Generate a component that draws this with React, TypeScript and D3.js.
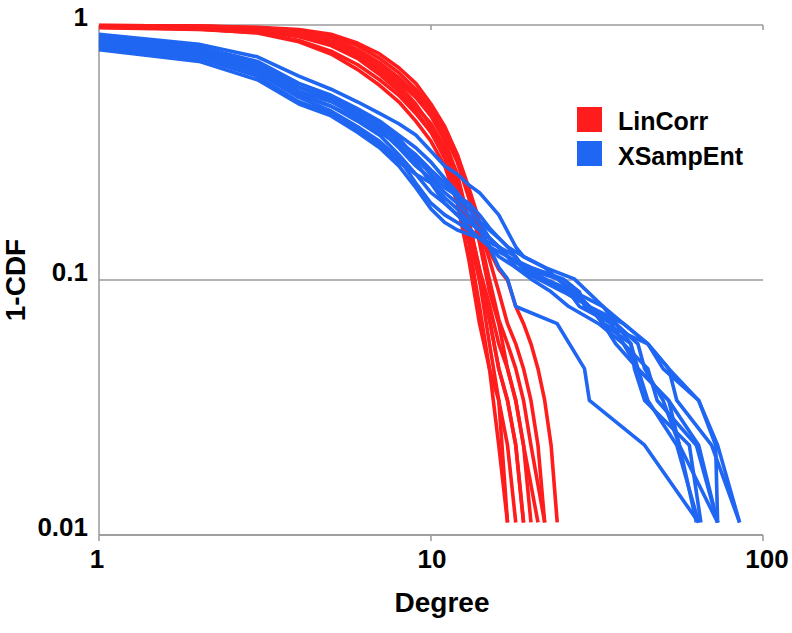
import React from "react";
import * as d3 from "d3";

type Pt = [number, number];

// LinCorr degree distributions (degree, 1-CDF)
const linCorr: Pt[][] = [
  [[1, 0.98], [2, 0.965], [3, 0.93], [4, 0.86], [5, 0.77], [6, 0.67], [7, 0.58], [8, 0.5], [9, 0.42], [10, 0.35], [11, 0.28], [12, 0.2], [13, 0.12], [14, 0.0674], [15, 0.0449], [16, 0.0225], [17, 0.0112]],
  [[1, 0.985], [2, 0.975], [3, 0.95], [4, 0.9], [5, 0.83], [6, 0.74], [7, 0.64], [8, 0.55], [9, 0.46], [10, 0.38], [11, 0.3], [12, 0.22], [13, 0.14], [14, 0.0787], [15, 0.0449], [16, 0.0337], [17, 0.0112]],
  [[1, 0.99], [2, 0.985], [3, 0.97], [4, 0.93], [5, 0.86], [6, 0.77], [7, 0.67], [8, 0.58], [9, 0.49], [10, 0.4], [11, 0.32], [12, 0.24], [13, 0.16], [14, 0.1], [15, 0.0562], [16, 0.0337], [17, 0.0225], [18, 0.0112]],
  [[1, 0.98], [2, 0.975], [3, 0.955], [4, 0.91], [5, 0.84], [6, 0.75], [7, 0.65], [8, 0.56], [9, 0.48], [10, 0.41], [11, 0.33], [12, 0.25], [13, 0.17], [14, 0.11], [15, 0.07], [16, 0.0449], [17, 0.0337], [18, 0.0225], [19, 0.0112]],
  [[1, 0.995], [2, 0.99], [3, 0.97], [4, 0.94], [5, 0.88], [6, 0.8], [7, 0.71], [8, 0.62], [9, 0.53], [10, 0.44], [11, 0.35], [12, 0.26], [13, 0.17], [14, 0.11], [15, 0.08], [16, 0.0562], [17, 0.0449], [18, 0.0337], [19, 0.0225], [20, 0.0112]],
  [[1, 0.99], [2, 0.98], [3, 0.96], [4, 0.92], [5, 0.86], [6, 0.78], [7, 0.69], [8, 0.6], [9, 0.52], [10, 0.44], [11, 0.37], [12, 0.29], [13, 0.21], [14, 0.14], [15, 0.09], [16, 0.0674], [17, 0.0449], [18, 0.0337], [19, 0.0225], [21, 0.0112]],
  [[1, 0.995], [2, 0.99], [3, 0.975], [4, 0.95], [5, 0.9], [6, 0.83], [7, 0.74], [8, 0.65], [9, 0.56], [10, 0.47], [11, 0.39], [12, 0.31], [13, 0.22], [14, 0.15], [15, 0.1], [16, 0.07], [17, 0.0562], [18, 0.0449], [19, 0.0337], [20, 0.0225], [22, 0.0112]],
  [[1, 0.985], [2, 0.98], [3, 0.965], [4, 0.93], [5, 0.88], [6, 0.8], [7, 0.71], [8, 0.62], [9, 0.54], [10, 0.46], [11, 0.38], [12, 0.3], [13, 0.22], [14, 0.16], [15, 0.12], [16, 0.09], [17, 0.0674], [18, 0.0562], [19, 0.0449], [20, 0.0337], [21, 0.0225], [22, 0.0112]],
  [[1, 0.995], [2, 0.99], [3, 0.98], [4, 0.96], [5, 0.92], [6, 0.85], [7, 0.77], [8, 0.68], [9, 0.59], [10, 0.49], [11, 0.4], [12, 0.31], [13, 0.23], [14, 0.17], [15, 0.13], [16, 0.11], [17, 0.1], [18, 0.0787], [19, 0.0674], [20, 0.0562], [21, 0.0449], [22, 0.0337], [23, 0.0225], [24, 0.0112]],
  [[1, 0.975], [2, 0.96], [3, 0.935], [4, 0.87], [5, 0.79], [6, 0.7], [7, 0.61], [8, 0.53], [9, 0.45], [10, 0.38], [11, 0.31], [12, 0.23], [13, 0.15], [14, 0.1], [15, 0.07], [16, 0.0449], [17, 0.0337], [18, 0.0225], [19, 0.0112]],
];

// XSampEnt degree distributions (degree, 1-CDF)
const xSampEnt: Pt[][] = [
  [[1, 0.92], [2, 0.84], [3, 0.75], [4, 0.63], [5, 0.56], [6, 0.5], [7, 0.45], [8, 0.41], [9, 0.37], [10, 0.32], [11, 0.28], [12, 0.26], [13, 0.236], [14, 0.22], [16, 0.18], [18, 0.135], [19, 0.1236], [22, 0.112], [27, 0.101], [33, 0.0787], [38, 0.0674], [45, 0.0562], [52, 0.0449], [64, 0.0337], [73, 0.0225], [85, 0.0112]],
  [[1, 0.9], [2, 0.82], [3, 0.72], [4, 0.59], [5, 0.53], [6, 0.47], [7, 0.42], [8, 0.37], [9, 0.33], [10, 0.29], [11, 0.25], [12, 0.22], [13, 0.19], [14, 0.168], [15, 0.146], [16, 0.135], [17, 0.1236], [19, 0.112], [24, 0.101], [27, 0.0899], [30, 0.0787], [33, 0.0674], [40, 0.0562], [42, 0.0449], [52, 0.0337], [64, 0.0225], [73, 0.0112]],
  [[1, 0.88], [2, 0.8], [3, 0.71], [4, 0.57], [5, 0.51], [6, 0.45], [7, 0.39], [8, 0.33], [9, 0.28], [10, 0.25], [11, 0.22], [12, 0.2], [13, 0.18], [14, 0.157], [15, 0.135], [16, 0.112], [17, 0.101], [18, 0.0787], [24, 0.0674], [29, 0.0449], [30, 0.0337], [44, 0.0225], [64, 0.0112]],
  [[1, 0.86], [2, 0.78], [3, 0.69], [4, 0.55], [5, 0.5], [6, 0.44], [7, 0.4], [8, 0.35], [9, 0.31], [10, 0.27], [11, 0.24], [12, 0.21], [13, 0.19], [14, 0.17], [15, 0.157], [16, 0.146], [17, 0.135], [19, 0.112], [21, 0.101], [26, 0.0899], [28, 0.0787], [35, 0.0674], [42, 0.0449], [45, 0.0337], [55, 0.0225], [64, 0.0112]],
  [[1, 0.85], [2, 0.77], [3, 0.67], [4, 0.53], [5, 0.48], [6, 0.42], [7, 0.37], [8, 0.31], [9, 0.26], [10, 0.22], [11, 0.2], [12, 0.18], [13, 0.168], [14, 0.157], [15, 0.146], [17, 0.1236], [18, 0.112], [20, 0.101], [23, 0.0899], [26, 0.0787], [32, 0.0674], [38, 0.0562], [45, 0.0449], [48, 0.0337], [63, 0.0225], [73, 0.0112]],
  [[1, 0.83], [2, 0.76], [3, 0.65], [4, 0.52], [5, 0.46], [6, 0.4], [7, 0.35], [8, 0.3], [9, 0.24], [10, 0.2], [11, 0.18], [12, 0.168], [13, 0.157], [14, 0.146], [16, 0.135], [17, 0.1236], [20, 0.112], [25, 0.101], [28, 0.0899], [29, 0.0787], [36, 0.0674], [40, 0.0562], [41, 0.0449], [44, 0.0337], [60, 0.0225], [65, 0.0112]],
  [[1, 0.82], [2, 0.74], [3, 0.63], [4, 0.5], [5, 0.45], [6, 0.39], [7, 0.34], [8, 0.29], [9, 0.26], [10, 0.24], [11, 0.2], [12, 0.18], [13, 0.16], [14, 0.146], [15, 0.135], [16, 0.1236], [18, 0.112], [21, 0.101], [25, 0.0899], [30, 0.0787], [33, 0.0674], [36, 0.0562], [42, 0.0449], [52, 0.0337], [56, 0.0225], [73, 0.0112]],
  [[1, 0.8], [2, 0.72], [3, 0.61], [4, 0.49], [5, 0.44], [6, 0.38], [7, 0.33], [8, 0.28], [9, 0.23], [10, 0.19], [11, 0.168], [12, 0.157], [14, 0.146], [15, 0.135], [17, 0.1236], [18, 0.112], [22, 0.101], [27, 0.0899], [30, 0.0787], [38, 0.0674], [45, 0.0562], [50, 0.0449], [64, 0.0337], [72, 0.0225], [73, 0.0112]],
  [[1, 0.87], [2, 0.79], [3, 0.69], [4, 0.57], [5, 0.52], [6, 0.46], [7, 0.41], [8, 0.36], [9, 0.3], [10, 0.26], [11, 0.23], [13, 0.2], [14, 0.18], [15, 0.16], [16, 0.146], [17, 0.135], [19, 0.1236], [22, 0.112], [24, 0.101], [27, 0.0899], [33, 0.0787], [36, 0.0674], [42, 0.0562], [44, 0.0449], [50, 0.0337], [56, 0.0225], [63, 0.0112]],
  [[1, 0.84], [2, 0.76], [3, 0.66], [4, 0.54], [5, 0.48], [6, 0.43], [7, 0.38], [8, 0.34], [9, 0.29], [10, 0.24], [11, 0.21], [12, 0.19], [13, 0.17], [14, 0.157], [15, 0.146], [16, 0.135], [18, 0.1236], [19, 0.112], [22, 0.101], [26, 0.0899], [30, 0.0787], [33, 0.0674], [45, 0.0562], [52, 0.0449], [55, 0.0337], [70, 0.0225], [85, 0.0112]],
];

const xTicks = [1, 10, 100];
const xTickLabels = ["1", "10", "100"];
const yTicks = [1, 0.1, 0.01];
const yTickLabels = ["1", "0.1", "0.01"];
const seriesNames = ["LinCorr", "XSampEnt"];
const seriesColors = ["#ff1c1c", "#1f66f2"];

const W = 792;
const H = 633;
const FONT = "Arial, 'Liberation Sans', Helvetica, sans-serif";

export default function App() {
  const x = d3.scaleLog().domain([1, 100]).range([99, 763]);
  const y = d3.scaleLog().domain([0.01, 1]).range([535, 25]);
  const line = d3
    .line<Pt>()
    .x((d) => x(d[0]))
    .y((d) => y(d[1]));
  const gray = "#9a9a9a";

  return (
    <svg
      width={W}
      height={H}
      style={{ position: "absolute", left: 0, top: 0, background: "#fff" }}
      fontFamily={FONT}
    >
      {/* gridlines */}
      {yTicks.map((v) => (
        <line key={"g" + v} x1={x(1)} x2={x(100)} y1={y(v)} y2={y(v)} stroke={gray} strokeWidth={1.5} />
      ))}
      {/* top tick marks */}
      {xTicks.slice(1).map((v) => (
        <line key={"tt" + v} x1={x(v)} x2={x(v)} y1={y(1)} y2={y(1) + 5} stroke={gray} strokeWidth={1.5} />
      ))}
      {/* left axis */}
      <line x1={x(1)} x2={x(1)} y1={y(1)} y2={y(0.01)} stroke={gray} strokeWidth={1.5} />
      {/* bottom axis */}
      <line x1={x(1)} x2={x(100)} y1={y(0.01)} y2={y(0.01)} stroke={gray} strokeWidth={1.5} />
      {xTicks.map((v) => (
        <line key={"bt" + v} x1={x(v)} x2={x(v)} y1={y(0.01)} y2={y(0.01) + 6} stroke={gray} strokeWidth={1.5} />
      ))}

      {/* series */}
      {linCorr.map((s, i) => (
        <path key={"r" + i} d={line(s) || ""} fill="none" stroke={seriesColors[0]} strokeWidth={3.6} strokeLinejoin="round" />
      ))}
      {xSampEnt.map((s, i) => (
        <path key={"b" + i} d={line(s) || ""} fill="none" stroke={seriesColors[1]} strokeWidth={3.6} strokeLinejoin="round" />
      ))}

      {/* tick labels */}
      {xTicks.map((v, i) => (
        <text
          key={"xl" + v}
          x={x(v) + (i === 2 ? 4 : i === 1 ? 1 : -2)}
          y={568}
          textAnchor="middle"
          fontSize={26}
          fontWeight="bold"
          fill="#000"
        >
          {xTickLabels[i]}
        </text>
      ))}
      {yTicks.map((v, i) => (
        <text key={"yl" + v} x={88} y={y(v) + 1} textAnchor="end" fontSize={26} fontWeight="bold" fill="#000">
          {yTickLabels[i]}
        </text>
      ))}

      {/* axis titles */}
      <text x={442} y={612} textAnchor="middle" fontSize={28} fontWeight="bold" fill="#000">
        Degree
      </text>
      <text
        transform="translate(25,280) rotate(-90)"
        textAnchor="middle"
        fontSize={28}
        fontWeight="bold"
        fill="#000"
      >
        1-CDF
      </text>

      {/* legend */}
      {seriesNames.map((n, i) => (
        <g key={n}>
          <rect x={577} y={107 + i * 34} width={25} height={25} fill={seriesColors[i]} />
          <text x={618} y={130 + i * 35} fontSize={25} fontWeight="bold" fill="#000">
            {n}
          </text>
        </g>
      ))}
    </svg>
  );
}
